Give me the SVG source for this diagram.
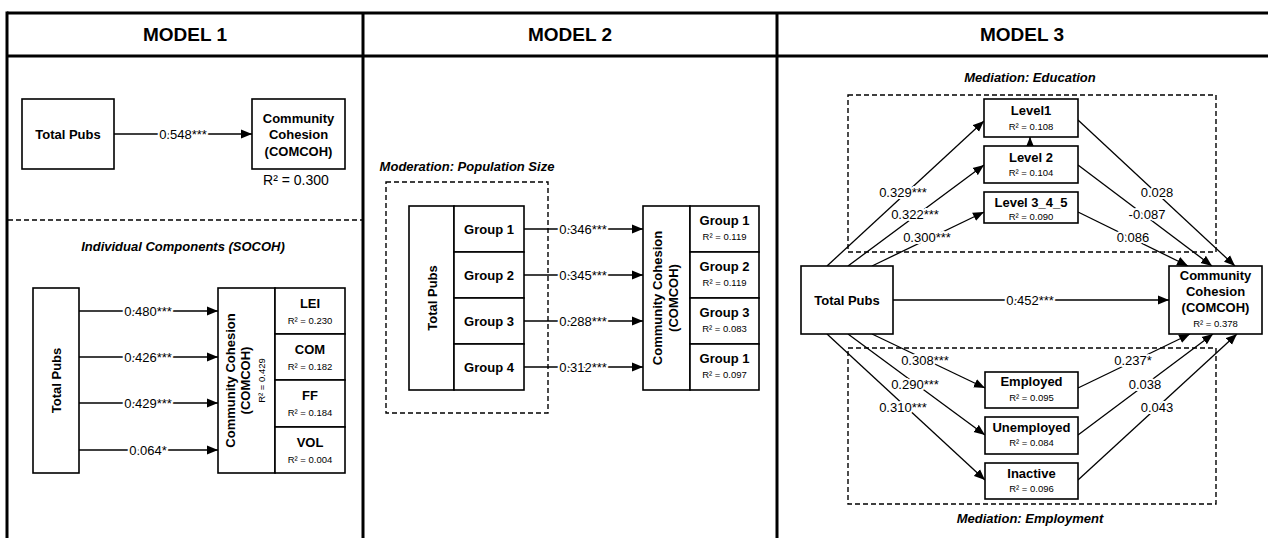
<svg xmlns="http://www.w3.org/2000/svg" width="1268" height="538" viewBox="0 0 1268 538">
<defs>
<marker id="ah" markerUnits="userSpaceOnUse" markerWidth="12" markerHeight="10" refX="11" refY="5" orient="auto">
<path d="M0,0.5 L11,5 L0,9.5 Z" fill="#000"/>
</marker>
<style>
text{font-family:"Liberation Sans",Arial,sans-serif;fill:#000}
.title{font-size:19px;font-weight:bold;text-anchor:middle}
.nb{font-size:13px;font-weight:bold;text-anchor:middle}
.r2{font-size:9.5px;text-anchor:middle}
.cap{font-size:13px;font-weight:bold;font-style:italic;text-anchor:middle}
.lbl{font-size:13px;text-anchor:middle;stroke:#fff;stroke-width:4px;paint-order:stroke;stroke-linejoin:round}
.box{fill:#fff;stroke:#000;stroke-width:1.6}
.frame{stroke:#000;stroke-width:3;fill:none}
.dash{fill:none;stroke:#000;stroke-width:1.4;stroke-dasharray:5,3}
.edge{stroke:#000;stroke-width:1.3;fill:none;marker-end:url(#ah)}
</style>
</defs>

<g id="frame">
<line class="frame" x1="7" y1="13" x2="1268" y2="13"/>
<line class="frame" x1="7" y1="56" x2="1268" y2="56"/>
<line class="frame" x1="7" y1="11.5" x2="7" y2="538"/>
<line class="frame" x1="363" y1="13" x2="363" y2="538"/>
<line class="frame" x1="777" y1="13" x2="777" y2="538"/>
<text class="title" x="185" y="41">MODEL 1</text>
<text class="title" x="570" y="41">MODEL 2</text>
<text class="title" x="1022" y="41">MODEL 3</text>
<line class="dash" x1="8" y1="220" x2="362" y2="220"/>
<text class="cap" x="183" y="251">Individual Components (SOCOH)</text>
<text class="cap" x="467" y="171">Moderation: Population Size</text>
<rect class="dash" x="386" y="182" width="162" height="231"/>
<text class="cap" x="1030" y="82">Mediation: Education</text>
<rect class="dash" x="848" y="95" width="368" height="157"/>
<text class="cap" x="1030" y="523">Mediation: Employment</text>
<rect class="dash" x="848" y="348" width="368" height="156"/>
</g>

<g id="connectors">
<line class="edge" x1="114" y1="134" x2="252" y2="134"/>
<line class="edge" x1="79" y1="311" x2="218" y2="311"/>
<line class="edge" x1="79" y1="357" x2="218" y2="357"/>
<line class="edge" x1="79" y1="403" x2="218" y2="403"/>
<line class="edge" x1="79" y1="450" x2="218" y2="450"/>
<line class="edge" x1="524" y1="229" x2="643" y2="229"/>
<line class="edge" x1="524" y1="275" x2="643" y2="275"/>
<line class="edge" x1="524" y1="321" x2="643" y2="321"/>
<line class="edge" x1="524" y1="367" x2="643" y2="367"/>
<line class="edge" x1="893" y1="300" x2="1169" y2="300"/>
<line class="edge" x1="827" y1="266" x2="984" y2="121"/>
<line class="edge" x1="848" y1="266" x2="984" y2="165"/>
<line class="edge" x1="872" y1="266" x2="984" y2="212"/>
<line class="edge" x1="1078" y1="120" x2="1235" y2="266"/>
<line class="edge" x1="1078" y1="165" x2="1212" y2="266"/>
<line class="edge" x1="1078" y1="212" x2="1188" y2="266"/>
<line class="edge" x1="872" y1="334" x2="985" y2="388"/>
<line class="edge" x1="848" y1="334" x2="985" y2="435"/>
<line class="edge" x1="827" y1="334" x2="985" y2="480"/>
<line class="edge" x1="1078" y1="388" x2="1190" y2="334"/>
<line class="edge" x1="1078" y1="435" x2="1213" y2="334"/>
<line class="edge" x1="1078" y1="480" x2="1237" y2="334"/>
<line class="edge" x1="1030" y1="146" x2="1030" y2="137"/>
<text class="lbl" x="183" y="138.5">0.548***</text>
<text class="lbl" x="148" y="315.5">0.480***</text>
<text class="lbl" x="148" y="361.5">0.426***</text>
<text class="lbl" x="148" y="407.5">0.429***</text>
<text class="lbl" x="148" y="454.5">0.064*</text>
<text class="lbl" x="583" y="233.5">0.346***</text>
<text class="lbl" x="583" y="279.5">0.345***</text>
<text class="lbl" x="583" y="325.5">0.288***</text>
<text class="lbl" x="583" y="371.5">0.312***</text>
<text class="lbl" x="1030" y="304.5">0.452***</text>
<text class="lbl" x="903" y="196.5">0.329***</text>
<text class="lbl" x="915" y="218.5">0.322***</text>
<text class="lbl" x="927" y="241.5">0.300***</text>
<text class="lbl" x="1157" y="196.5">0.028</text>
<text class="lbl" x="1147" y="218.5">-0.087</text>
<text class="lbl" x="1133" y="241.5">0.086</text>
<text class="lbl" x="925" y="364.5">0.308***</text>
<text class="lbl" x="915" y="388.5">0.290***</text>
<text class="lbl" x="903" y="411.5">0.310***</text>
<text class="lbl" x="1133" y="364.5">0.237*</text>
<text class="lbl" x="1145" y="388.5">0.038</text>
<text class="lbl" x="1157" y="411.5">0.043</text>
</g>

<g id="m1-totalpubs">
<rect class="box" x="22" y="99" width="92" height="70"/>
<text class="nb" x="68" y="138.5">Total Pubs</text>
</g>
<g id="m1-comcoh">
<rect class="box" x="252" y="99" width="93" height="70"/>
<text class="nb" x="298.5" y="122.5">Community</text>
<text class="nb" x="298.5" y="138.5">Cohesion</text>
<text class="nb" x="298.5" y="155.5">(COMCOH)</text>
<text x="296" y="185" style="font-size:14px;text-anchor:middle">R² = 0.300</text>
</g>

<g id="m1b-totalpubs">
<rect class="box" x="33" y="288" width="46" height="185"/>
<text class="nb" transform="translate(60.5,380.5) rotate(-90)">Total Pubs</text>
</g>
<g id="m1b-comcoh">
<rect class="box" x="218" y="288" width="57" height="185"/>
<text class="nb" transform="translate(235,380.5) rotate(-90)">Community Cohesion</text>
<text class="nb" transform="translate(250,380.5) rotate(-90)">(COMCOH)</text>
<text class="r2" transform="translate(265,380.5) rotate(-90)">R² = 0.429</text>
</g>
<g id="m1b-lei">
<rect class="box" x="275" y="288" width="70" height="46"/>
<text class="nb" x="310" y="308">LEI</text>
<text class="r2" x="310" y="324">R² = 0.230</text>
</g>
<g id="m1b-com">
<rect class="box" x="275" y="334" width="70" height="46"/>
<text class="nb" x="310" y="354">COM</text>
<text class="r2" x="310" y="370">R² = 0.182</text>
</g>
<g id="m1b-ff">
<rect class="box" x="275" y="380" width="70" height="47"/>
<text class="nb" x="310" y="400">FF</text>
<text class="r2" x="310" y="416">R² = 0.184</text>
</g>
<g id="m1b-vol">
<rect class="box" x="275" y="427" width="70" height="46"/>
<text class="nb" x="310" y="447">VOL</text>
<text class="r2" x="310" y="463">R² = 0.004</text>
</g>

<g id="m2-totalpubs">
<rect class="box" x="409" y="206" width="45" height="184"/>
<text class="nb" transform="translate(436.5,298) rotate(-90)">Total Pubs</text>
</g>
<g id="m2-g1"><rect class="box" x="454" y="206" width="70" height="46"/><text class="nb" x="489" y="233.5">Group 1</text></g>
<g id="m2-g2"><rect class="box" x="454" y="252" width="70" height="46"/><text class="nb" x="489" y="279.5">Group 2</text></g>
<g id="m2-g3"><rect class="box" x="454" y="298" width="70" height="46"/><text class="nb" x="489" y="325.5">Group 3</text></g>
<g id="m2-g4"><rect class="box" x="454" y="344" width="70" height="46"/><text class="nb" x="489" y="371.5">Group 4</text></g>
<g id="m2-comcoh">
<rect class="box" x="643" y="206" width="47" height="184"/>
<text class="nb" transform="translate(662,298) rotate(-90)">Community Cohesion</text>
<text class="nb" transform="translate(678,298) rotate(-90)">(COMCOH)</text>
</g>
<g id="m2-o1"><rect class="box" x="690" y="206" width="69" height="46"/><text class="nb" x="724.5" y="224.5">Group 1</text><text class="r2" x="724.5" y="240">R² = 0.119</text></g>
<g id="m2-o2"><rect class="box" x="690" y="252" width="69" height="46"/><text class="nb" x="724.5" y="270.5">Group 2</text><text class="r2" x="724.5" y="286">R² = 0.119</text></g>
<g id="m2-o3"><rect class="box" x="690" y="298" width="69" height="46"/><text class="nb" x="724.5" y="316.5">Group 3</text><text class="r2" x="724.5" y="332">R² = 0.083</text></g>
<g id="m2-o4"><rect class="box" x="690" y="344" width="69" height="46"/><text class="nb" x="724.5" y="362.5">Group 1</text><text class="r2" x="724.5" y="378">R² = 0.097</text></g>

<g id="m3-totalpubs">
<rect class="box" x="801" y="266" width="92" height="68"/>
<text class="nb" x="847" y="304.5">Total Pubs</text>
</g>
<g id="m3-comcoh">
<rect class="box" x="1169" y="266" width="93" height="68"/>
<text class="nb" x="1215.5" y="280">Community</text>
<text class="nb" x="1215.5" y="296">Cohesion</text>
<text class="nb" x="1215.5" y="312">(COMCOH)</text>
<text class="r2" x="1215.5" y="327">R² = 0.378</text>
</g>
<g id="m3-level1">
<rect class="box" x="984" y="99" width="94" height="38"/>
<text class="nb" x="1031" y="114.5">Level1</text>
<text class="r2" x="1031" y="130">R² = 0.108</text>
</g>
<g id="m3-level2">
<rect class="box" x="984" y="146" width="94" height="37"/>
<text class="nb" x="1031" y="161.5">Level 2</text>
<text class="r2" x="1031" y="176">R² = 0.104</text>
</g>
<g id="m3-level345">
<rect class="box" x="984" y="192" width="94" height="31"/>
<text class="nb" x="1031" y="207">Level 3_4_5</text>
<text class="r2" x="1031" y="219.5">R² = 0.090</text>
</g>
<g id="m3-employed">
<rect class="box" x="985" y="372" width="93" height="36"/>
<text class="nb" x="1031.5" y="385.5">Employed</text>
<text class="r2" x="1031.5" y="401">R² = 0.095</text>
</g>
<g id="m3-unemployed">
<rect class="box" x="985" y="417" width="93" height="37"/>
<text class="nb" x="1031.5" y="431.5">Unemployed</text>
<text class="r2" x="1031.5" y="446">R² = 0.084</text>
</g>
<g id="m3-inactive">
<rect class="box" x="985" y="463" width="93" height="36"/>
<text class="nb" x="1031.5" y="477.5">Inactive</text>
<text class="r2" x="1031.5" y="492">R² = 0.096</text>
</g>
</svg>
